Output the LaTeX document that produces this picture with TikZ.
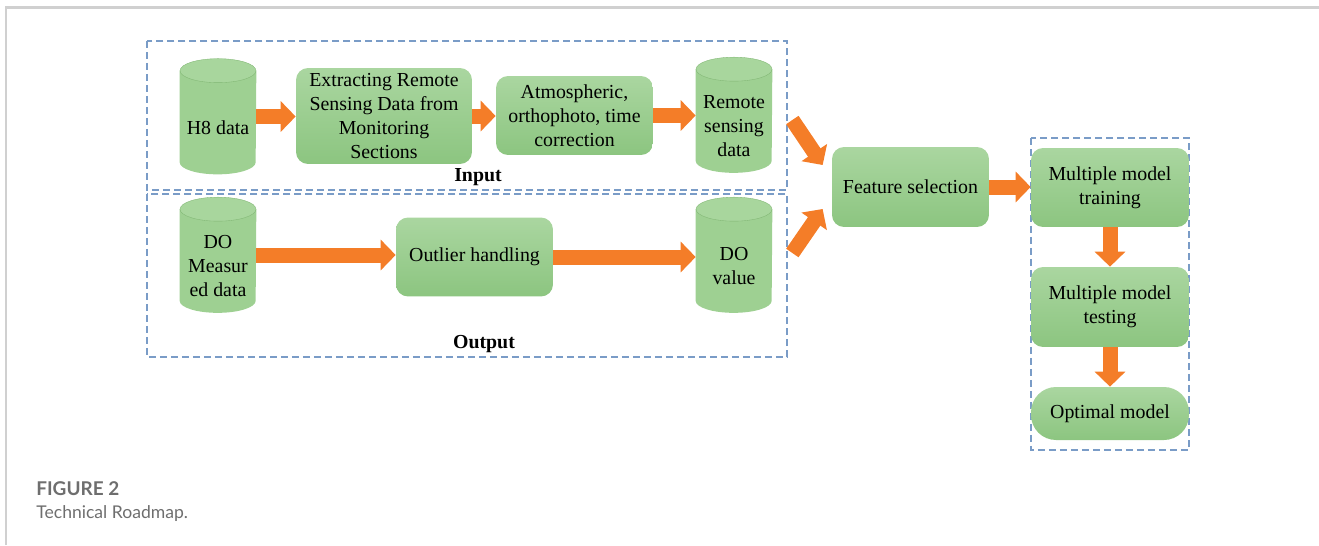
\documentclass[tikz,border=0pt]{standalone}
\usepackage{fontspec}
\setmainfont{Liberation Serif}
\newfontfamily\capfont{Lato}
\usetikzlibrary{arrows.meta,calc}
\definecolor{gtop}{RGB}{170,214,160}
\definecolor{gbot}{RGB}{140,197,128}
\definecolor{cylbody}{RGB}{158,208,146}
\definecolor{cylend}{RGB}{168,214,157}
\definecolor{cyledge}{RGB}{128,182,115}
\definecolor{arrowc}{RGB}{244,125,40}
\definecolor{dashc}{RGB}{122,156,199}
\definecolor{framec}{RGB}{208,208,208}
\definecolor{capc}{RGB}{110,110,110}
\tikzstyle{box}=[rectangle, rounded corners=0.24cm, top color=gtop, bottom color=gbot, minimum width=3.14cm, minimum height=1.58cm, inner sep=0pt, align=center, font=\fontsize{11.3pt}{13.6pt}\selectfont]
\tikzstyle{cylbox}=[rectangle, minimum width=1.52cm, minimum height=2.3cm, inner sep=0pt]
\tikzstyle{cyltext}=[align=center, inner sep=0pt, font=\fontsize{11.3pt}{13.6pt}\selectfont]
\tikzstyle{group}=[draw=dashc, line width=0.7pt, dash pattern=on 0.14cm off 0.08cm]
\tikzstyle{barrow}=[draw=arrowc, line width=0.3cm, -{Triangle[length=0.3cm,width=0.6cm]}]
\tikzstyle{annot}=[align=center, font=\fontsize{11.3pt}{13.6pt}\selectfont\bfseries]
\newcommand{\datacyl}[4]
{
  \node[cylbox] (#1) at (#2,#3) {};
  \fill[cylbody] ($(#1.north west)+(0,12)$) -- ($(#1.south west)+(0,-12)$) arc[start angle=180, end angle=360, x radius=0.76cm, y radius=0.24cm] -- ($(#1.north east)+(0,12)$) -- cycle;
  \filldraw[fill=cylend, draw=cyledge, very thin] ($(#1.north)+(0,12)$) ellipse[x radius=0.76cm, y radius=0.24cm];
  \node[cyltext] (#1t) at ($(#1.center)+(0,11)$) {#4};
}
\begin{document}
\begin{tikzpicture}[x=0.02cm, y=-0.02cm]
	\useasboundingbox (0,0) rectangle (1319,545);
	% page frame
	\draw[framec, line width=1.5pt] (6,545) -- (6,7.5) -- (1319,7.5);

	% dashed groups
	\draw[group] (147,41) rectangle (787,190);
	\draw[group] (147,194) rectangle (787,357);
	\draw[group] (1031,138) rectangle (1189,450);
	\node[annot] (input) at (478,177) {Input};
	\node[annot] (output) at (484,344) {Output};

	% input row
	\datacyl{h8}{218}{116.5}{H8 data}
	\node[box, minimum width=3.52cm, minimum height=1.92cm] (ext) at (384,116) {Extracting Remote\\Sensing Data from\\Monitoring\\Sections};
	\node[box] (atm) at (574.5,115.5) {Atmospheric,\\orthophoto, time\\correction};
	\datacyl{rs}{734}{115}{Remote\\sensing\\data}

	% output row
	\datacyl{dom}{218}{255}{DO\\Measur\\ed data}
	\node[box] (out) at (474.5,257) {Outlier handling};
	\datacyl{dov}{734}{255}{DO\\value}

	% models
	\node[box, minimum height=1.6cm] (fs) at (910.5,187) {Feature selection};
	\node[box, minimum width=3.16cm] (train) at (1110,187.5) {Multiple model\\training};
	\node[box, minimum width=3.16cm, minimum height=1.6cm] (test) at (1110,307) {Multiple model\\testing};
	\node[box, minimum width=3.16cm, minimum height=1.06cm, rounded corners=0.5cm] (opt) at (1110,413.5) {Optimal model};

	\coordinate (d1) at ($(rs.east)+(20,5)$);
	\coordinate (d1e) at ($(fs.west)+(-9,-22)$);
	\coordinate (d2) at ($(dov.east)+(20,-2)$);
	\coordinate (d2e) at ($(fs.west)+(-9,22)$);

	\draw[barrow] (h8.east) -- (ext.west |- h8.east);
	\draw[barrow] (ext.east) -- (atm.west |- ext.east);
	\draw[barrow] (atm.east) -- (rs.west |- atm.east);
	\draw[barrow] (dom.east) -- (out.west |- dom.east);
	\draw[barrow] (out.east) -- (dov.west |- out.east);
	\draw[barrow] (d1) -- (d1e);
	\draw[barrow] (d2) -- (d2e);
	\draw[barrow] (fs.east) -- (train.west |- fs.east);
	\draw[barrow] (train.south) -- (test.north);
	\draw[barrow] (test.south) -- (opt.north);

	% caption
	\node[anchor=base west, inner sep=0pt, text=capc, font=\capfont\fontsize{10.8pt}{12pt}\selectfont\bfseries] (fig) at (36,495) {FIGURE 2};
	\node[anchor=base west, inner sep=0pt, text=capc, font=\capfont\fontsize{10pt}{12pt}\selectfont] (cap) at (36,518) {Technical Roadmap.};
\end{tikzpicture}
\end{document}
